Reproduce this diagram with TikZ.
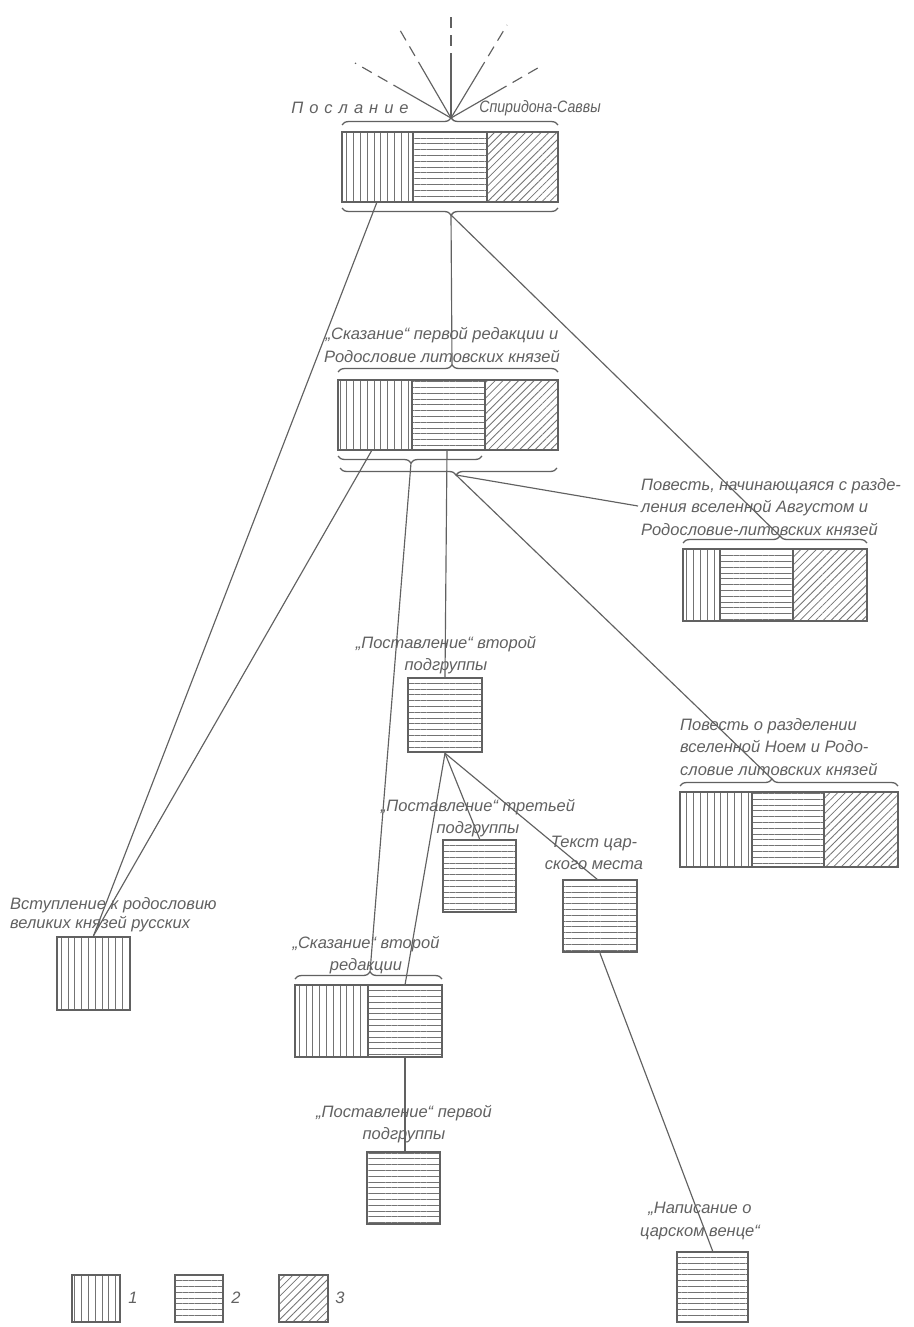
\documentclass[tikz,border=0pt]{standalone}
\usepackage{fontspec}
\usepackage{graphicx}
\setmainfont{Liberation Sans}
\usetikzlibrary{patterns.meta,decorations.pathreplacing,calc}
\begin{document}
\begin{tikzpicture}[x=1pt,y=-1pt,
  bx/.style={draw=black!62, line width=2.5pt, rectangle, inner sep=0pt},
  divl/.style={draw=black!62, line width=2.2pt},
  vh/.style={pattern={Lines[angle=90,distance=6.8pt,line width=0.8pt]}, pattern color=black!55},
  hh/.style={pattern={Lines[angle=0,distance=5.8pt,line width=0.8pt]}, pattern color=black!55},
  dh/.style={pattern={Lines[angle=45,distance=5.5pt,line width=0.8pt]}, pattern color=black!55},
  conn/.style={draw=black!62, line width=1.15pt},
  ray/.style={draw=black!62, line width=1.15pt, dash pattern=on 11pt off 7pt},
  lbl/.style={font=\itshape\fontsize{16.5}{22.5}\selectfont, text=black!62, inner sep=0pt},
  brc/.style={draw=black!62, line width=1.3pt, decorate},
]
\useasboundingbox[fill=white] (0,0) rectangle (913,1327);

% ---------- hatched cells ----------
% A
\path[vh] (342,132) rectangle (413,202);
\path[hh] (413,132) rectangle (487,202);
\path[dh] (487,132) rectangle (558,202);
% B
\path[vh] (338,380) rectangle (412,450);
\path[hh] (412,380) rectangle (485,450);
\path[dh] (485,380) rectangle (558,450);
% C
\path[vh] (683,549) rectangle (720,621);
\path[hh] (720,549) rectangle (793,621);
\path[dh] (793,549) rectangle (867,621);
% D
\path[vh] (680,792) rectangle (752,867);
\path[hh] (752,792) rectangle (824,867);
\path[dh] (824,792) rectangle (898,867);
% single / double
\path[hh] (408,678) rectangle (482,752);
\path[hh] (443,840) rectangle (516,912);
\path[hh] (563,880) rectangle (637,952);
\path[vh] (57,937) rectangle (130,1010);
\path[vh] (295,985) rectangle (368,1057);
\path[hh] (368,985) rectangle (442,1057);
\path[hh] (367,1152) rectangle (440,1224);
\path[hh] (677,1252) rectangle (748,1322);
\path[vh] (72,1275) rectangle (120,1322);
\path[hh] (175,1275) rectangle (223,1322);
\path[dh] (279,1275) rectangle (328,1322);

% ---------- boxes ----------
\node[bx, minimum width=216pt, minimum height=70pt] (A) at (450,167) {};
\node[bx, minimum width=220pt, minimum height=70pt] (B) at (448,415) {};
\node[bx, minimum width=184pt, minimum height=72pt] (C) at (775,585) {};
\node[bx, minimum width=218pt, minimum height=75pt] (D) at (789,829.5) {};
\node[bx, minimum width=74pt, minimum height=74pt] (E) at (445,715) {};
\node[bx, minimum width=73pt, minimum height=72pt] (F) at (479.5,876) {};
\node[bx, minimum width=74pt, minimum height=72pt] (G) at (600,916) {};
\node[bx, minimum width=73pt, minimum height=73pt] (H) at (93.5,973.5) {};
\node[bx, minimum width=147pt, minimum height=72pt] (I) at (368.5,1021) {};
\node[bx, minimum width=73pt, minimum height=72pt] (J) at (403.5,1188) {};
\node[bx, minimum width=71pt, minimum height=70pt] (K) at (712.5,1287) {};
\node[bx, minimum width=48pt, minimum height=47pt] (L1) at (96,1298.5) {};
\node[bx, minimum width=48pt, minimum height=47pt] (L2) at (199,1298.5) {};
\node[bx, minimum width=49pt, minimum height=47pt] (L3) at (303.5,1298.5) {};

\draw[divl] (413,132) -- (413,202) (487,132) -- (487,202);
\draw[divl] (412,380) -- (412,450) (485,380) -- (485,450);
\draw[divl] (720,549) -- (720,621) (793,549) -- (793,621);
\draw[divl] (752,792) -- (752,867) (824,792) -- (824,867);
\draw[divl] (368,985) -- (368,1057);

% ---------- braces ----------
\draw[brc, decoration={brace, amplitude=7pt, aspect=0.505}] (342,125) -- (558,125);
\draw[brc, decoration={brace, mirror, amplitude=7pt, aspect=0.505}] (342,208) -- (558,208);
\draw[brc, decoration={brace, amplitude=7pt, aspect=0.518}] (338,372) -- (558,372);
\draw[brc, decoration={brace, mirror, amplitude=7pt, aspect=0.507}] (338,456) -- (482,456);
\draw[brc, decoration={brace, mirror, amplitude=7pt, aspect=0.535}] (340,468) -- (557,468);
\draw[brc, decoration={brace, amplitude=7pt, aspect=0.527}] (683,543) -- (867,543);
\draw[brc, decoration={brace, amplitude=7pt, aspect=0.422}] (680,786) -- (898,786);
\draw[brc, decoration={brace, amplitude=7pt, aspect=0.51}] (295,979) -- (442,979);

% ---------- named points ----------
\coordinate (tA) at (451,118);
\coordinate (bA) at (451,215);
\coordinate (tB) at (452,365);
\coordinate (bB1) at (411,463);
\coordinate (bB2) at (456,475);
\coordinate (tC) at (780,536);
\coordinate (tD) at (772,779);
\coordinate (tI) at (370,972);
\coordinate (a1) at (377,202);
\coordinate (b1) at (372,450);
\coordinate (b2) at (447,450);
\coordinate (cL) at (638,506);
\coordinate (f1) at (480,840);
\coordinate (g1) at (598,880);
\coordinate (i1) at (405,985);
\coordinate (i2) at (405,1057);
\coordinate (j1) at (405,1152);
\coordinate (k1) at (713,1252);
\coordinate (r1) at (451,10);
\coordinate (r2) at (397,25);
\coordinate (r3) at (355,63);
\coordinate (r4) at (507,25);
\coordinate (r5) at (543,65);

% ---------- rays ----------
\foreach \r in {r1,r2,r3,r4,r5}{
  \draw[conn] (tA) -- ($(tA)!0.5!(\r)$);
  \draw[ray] ($(tA)!0.5!(\r)$) -- (\r);
}

% ---------- connectors ----------
\draw[conn] (bA) -- (tB);
\draw[conn] (bA) -- (tC);
\draw[conn] (a1) -- (H.north);
\draw[conn] (b1) -- (H.north);
\draw[conn] (bB1) -- (tI);
\draw[conn] (b2) -- (E.north);
\draw[conn] (bB2) -- (tD);
\draw[conn] (bB2) -- (cL);
\draw[conn] (E.south) -- (f1);
\draw[conn] (E.south) -- (g1);
\draw[conn] (E.south) -- (i1);
\draw[conn] (G.south) -- (k1);
\draw[conn] (i2) -- (j1);

% ---------- labels ----------
\node[lbl] (lA1) at (350,108) {П\kern6pt о\kern6pt с\kern6pt л\kern6pt а\kern6pt н\kern6pt и\kern6pt е};
\node[lbl] (lA2) at (540,108) {\scalebox{0.86}[1]{Спиридона-Саввы}};
\node[lbl, align=center] (lB) at (442,345) {„Сказание“ первой редакции и\\Родословие литовских князей};
\node[lbl, align=left, anchor=west] (lC) at (641,507) {Повесть, начинающаяся с разде-\\ления вселенной Августом и\\Родословие-литовских князей};
\node[lbl, align=left, anchor=west] (lD) at (680,747) {Повесть о разделении\\вселенной Ноем и Родо-\\словие литовских князей};
\node[lbl, align=center] (lE) at (446,655) {„Поставление“ второй\\подгруппы};
\node[lbl, align=center] (lF) at (478,818) {„Поставление“ третьей\\подгруппы};
\node[lbl, align=center] (lG) at (594,853) {Текст цар-\\ского места};
\node[lbl, align=left, anchor=west, font=\itshape\fontsize{16.5}{19}\selectfont] (lH) at (10,915) {Вступление к родословию\\великих князей русских};
\node[lbl, align=center] (lI) at (366,955) {„Сказание“ второй\\редакции};
\node[lbl, align=center] (lJ) at (404,1124) {„Поставление“ первой\\подгруппы};
\node[lbl, align=center] (lK) at (700,1221) {„Написание о\\царском венце“};
\node[lbl] (n1) at (133,1298) {1};
\node[lbl] (n2) at (236,1298) {2};
\node[lbl] (n3) at (340,1298) {3};
\end{tikzpicture}
\end{document}
